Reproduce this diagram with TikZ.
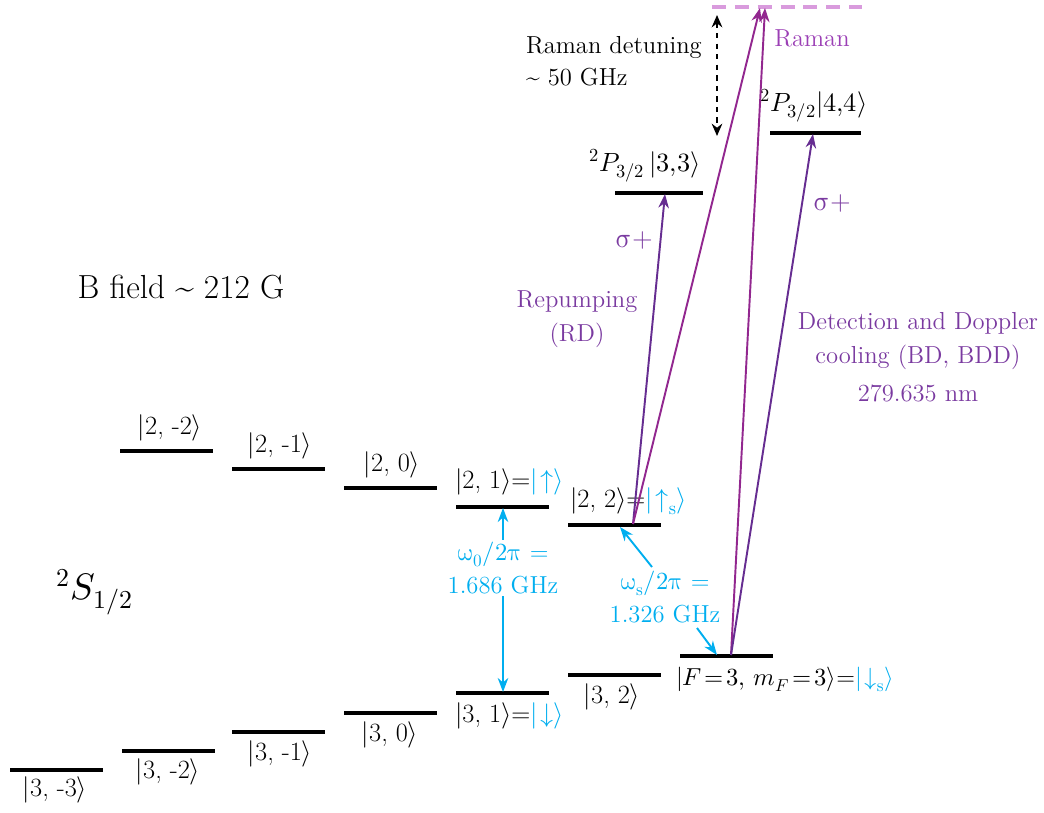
\documentclass[tikz,border=0pt]{standalone}
\usepackage{unicode-math}
\usetikzlibrary{arrows.meta}
\definecolor{cy}{HTML}{00AEEF}
\definecolor{pu}{HTML}{662D91}
\definecolor{mg}{HTML}{92278F}
\definecolor{tpu}{HTML}{7A3AA0}
\definecolor{lpu}{HTML}{9B3FB5}
\definecolor{dsh}{HTML}{D99BDD}
\tikzset{
  level/.style={line width=2.4pt, black},
  lab/.style={font=\fontsize{14}{17}\selectfont, inner sep=1pt},
  klab/.style={font=\fontsize{15}{18}\selectfont, inner sep=1pt},
  purar/.style={pu, line width=1.1pt, -{Stealth[length=8pt,width=6pt]}},
  magar/.style={mg, line width=1.1pt, -{Stealth[length=8pt,width=6pt]}},
  cyar/.style={cy, line width=1.1pt, -{Stealth[length=8pt,width=6pt]}},
}
\newcommand{\ket}[1]{$\vert$#1$\rangle$}
\newcommand{\teq}{\mskip2mu{=}\mskip2mu}
\begin{document}
\begin{tikzpicture}[x=0.02cm,y=-0.02cm]
\useasboundingbox (0,0) rectangle (1044,812);
% S levels F=2
\draw[level] (120,451) -- (213,451);
\draw[level] (232,469) -- (325,469);
\draw[level] (344,488) -- (437,488);
\draw[level] (456,507) -- (549,507);
\draw[level] (568,525) -- (661,525);
% F=3
\draw[level] (10,770) -- (103,770);
\draw[level] (122,751) -- (215,751);
\draw[level] (232,732) -- (325,732);
\draw[level] (344,713) -- (437,713);
\draw[level] (456,693) -- (549,693);
\draw[level] (568,675) -- (661,675);
\draw[level] (680,656) -- (773,656);
% P levels
\draw[level] (615,193) -- (703,193);
\draw[level] (770,133) -- (861,133);
% Raman virtual level
\draw[dsh, line width=1.8pt, dash pattern=on 8pt off 5pt] (712,7) -- (862,7);

% labels
\node[klab] (l22m) at (170,428) {\ket{2, -2}};
\node[klab] (l21m) at (280,446) {\ket{2, -1}};
\node[klab] (l20) at (392,465) {\ket{2, 0}};
\node[klab, anchor=west] (l21) at (453,482) {\ket{2, 1}=\textcolor{cy}{$\vert\!\uparrow\rangle$}};
\node[klab, anchor=west] (l22) at (568,501) {\ket{2, 2}=\textcolor{cy}{$\vert\!\uparrow_{\mathrm{s}}\rangle$}};
\node[klab] (l33m) at (55,790) {\ket{3, -3}};
\node[klab] (l32m) at (168,772) {\ket{3, -2}};
\node[klab] (l31m) at (280,754) {\ket{3, -1}};
\node[klab] (l30) at (390,735) {\ket{3, 0}};
\node[klab, anchor=west] (l31) at (453,716) {\ket{3, 1}=\textcolor{cy}{$\vert\!\downarrow\rangle$}};
\node[klab] (l32) at (612,697) {\ket{3, 2}};
\node[klab, font=\fontsize{14}{17}\selectfont, anchor=west] (l33) at (674,679) {$\vert F\teq 3,\, m_F\teq 3\rangle$=\textcolor{cy}{$\vert\!\downarrow_{\mathrm{s}}\rangle$}};

\node[font=\fontsize{15}{18}\selectfont, inner sep=0pt] (p33) at (645,166) {$^2P_{3/2}\,\vert 3{,}3\rangle$};
\node[font=\fontsize{15}{18}\selectfont, inner sep=0pt] (p44) at (814,106) {$^2P_{3/2}\vert 4{,}4\rangle$};

\node[font=\fontsize{19}{23}\selectfont] (bf) at (181,287) {B field \textasciitilde{} 212 G};
\node[font=\fontsize{21}{24}\selectfont] (s12) at (95,592) {$^2S_{1/2}$};

\node[lab, anchor=west, align=left] (rd) at (524,61) {Raman detuning\\[1pt]\textasciitilde{} 50 GHz};
\node[lab, text=lpu] (rm) at (812,38) {Raman};
\node[text=tpu, font=\fontsize{16}{18}\selectfont] (sg1) at (634,240) {$\symup{\sigma}$+};
\node[text=tpu, font=\fontsize{16}{18}\selectfont] (sg2) at (832,203) {$\symup{\sigma}$+};
\node[lab, text=tpu, align=center] (rep) at (577,319) {Repumping\\[2pt](RD)};
\node[lab, text=tpu, align=center] (det) at (918,341) {Detection and Doppler\\[2pt]cooling (BD, BDD)};
\node[lab, text=tpu] (wl) at (918,393) {279.635 nm};

% Raman detuning arrow
\coordinate (dt1) at (717,15);
\coordinate (dt2) at (717,136);
\draw[black, line width=1.2pt, dashed, {Stealth[length=7pt,width=6pt]}-{Stealth[length=7pt,width=6pt]}] (dt1) -- (dt2);

% transitions
\coordinate (s22) at (633,524);
\coordinate (s33) at (731,655);
\coordinate (t33) at (665,194);
\coordinate (t44) at (813,134);
\coordinate (v1) at (760,8);
\coordinate (v2) at (765,8);
\draw[purar] (s22) -- (t33);
\draw[magar] (s22) -- (v1);
\draw[magar] (s33) -- (v2);
\draw[purar] (s33) -- (t44);

% microwave / clock splittings
\node[lab, text=cy, align=center] (w0) at (503,568) {$\symup{\omega}_0/2\symup{\pi}$ =\\[2pt]1.686 GHz};
\coordinate (w0t) at (503,508);
\coordinate (w0b) at (503,692);
\draw[cyar] (w0.north) -- (w0t);
\draw[cyar] (w0.south) -- (w0b);
\node[lab, text=cy, align=center] (ws) at (665,597) {$\symup{\omega}_{\mathrm{s}}/2\symup{\pi}$ =\\[2pt]1.326 GHz};
\coordinate (wst) at (620,527);
\coordinate (wsb) at (717,655);
\coordinate (wsa) at (652,567);
\coordinate (wsc) at (697,628);
\draw[cyar] (wsa) -- (wst);
\draw[cyar] (wsc) -- (wsb);
\end{tikzpicture}
\end{document}
